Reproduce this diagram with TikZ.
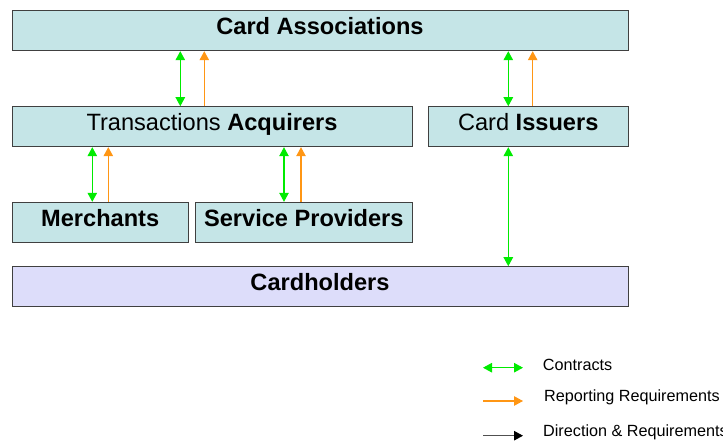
\documentclass[tikz,border=0pt]{standalone}
\usepackage{fontspec}
\setmainfont{Liberation Sans}
\usetikzlibrary{arrows.meta}
\definecolor{boxfill}{RGB}{197,229,231}
\definecolor{holderfill}{RGB}{221,221,250}
\definecolor{boxline}{RGB}{64,64,64}
\definecolor{contractgreen}{RGB}{0,235,0}
\definecolor{reportorange}{RGB}{255,150,20}
\definecolor{dirgray}{RGB}{80,80,80}
\tikzset{
  entity/.style={draw=boxline, line width=1pt, fill=boxfill, rectangle,
    minimum height=40pt, inner sep=2pt, text height=16pt, text depth=8pt,
    font=\fontsize{23.6}{28}\selectfont},
  contract/.style={draw=contractgreen, line width=1.1pt, {Triangle[width=9.5pt,length=9pt]}-{Triangle[width=9.5pt,length=9pt]}},
  report/.style={draw=reportorange, line width=1.1pt, -{Triangle[width=9.5pt,length=9pt]}},
  direction/.style={draw=dirgray, line width=1.1pt, -{Triangle[width=9.5pt,length=9pt,color=black]}},
  legendtext/.style={anchor=base west, inner sep=0pt, font=\fontsize{16.2}{19}\selectfont}
}
\begin{document}
\begin{tikzpicture}[x=1pt,y=-1pt]
\useasboundingbox (0,0) rectangle (723,442);

% organisations
\node[entity, minimum width=616pt] (assoc) at (320,30.7) {\textbf{Card Associations}};
\node[entity, minimum width=400pt] (acq) at (212,126.7) {Transactions \textbf{Acquirers}};
\node[entity, minimum width=200pt] (iss) at (528.2,126.7) {Card \textbf{Issuers}};
\node[entity, minimum width=176.3pt] (merch) at (100.2,222.3) {\textbf{Merchants}};
\node[entity, minimum width=217pt] (sp) at (303.8,222.3) {\textbf{Service Providers}};
\node[entity, fill=holderfill, minimum width=616pt] (holders) at (320,286.7) {\textbf{Cardholders}};

% contracts and reporting lines
\draw[contract] (180.3,0 |- assoc.south) -- (180.3,0 |- acq.north);
\draw[report]   (204.3,0 |- acq.north) -- (204.3,0 |- assoc.south);
\draw[contract] (508.3,0 |- assoc.south) -- (508.3,0 |- iss.north);
\draw[report]   (532.7,0 |- iss.north) -- (532.7,0 |- assoc.south);
\draw[contract] (92.3,0 |- acq.south) -- (92.3,0 |- merch.north);
\draw[report]   (108.3,0 |- merch.north) -- (108.3,0 |- acq.south);
\draw[contract] (284,0 |- acq.south) -- (284,0 |- sp.north);
\draw[report]   (301,0 |- sp.north) -- (301,0 |- acq.south);
\draw[contract] (508.3,0 |- iss.south) -- (508.3,0 |- holders.north);

% key
\coordinate (k1a) at (483,367.7);
\coordinate (k1b) at (523,367.7);
\coordinate (k2a) at (483,401);
\coordinate (k2b) at (523,401);
\coordinate (k3a) at (483,435.7);
\coordinate (k3b) at (523,435.7);
\draw[contract] (k1a) -- (k1b);
\draw[report] (k2a) -- (k2b);
\draw[direction] (k3a) -- (k3b);
\node[legendtext] (l1) at (542.7,370) {Contracts};
\node[legendtext] (l2) at (544,401.7) {Reporting Requirements};
\node[legendtext] (l3) at (543,436.7) {Direction \& Requirements};
\end{tikzpicture}
\end{document}
